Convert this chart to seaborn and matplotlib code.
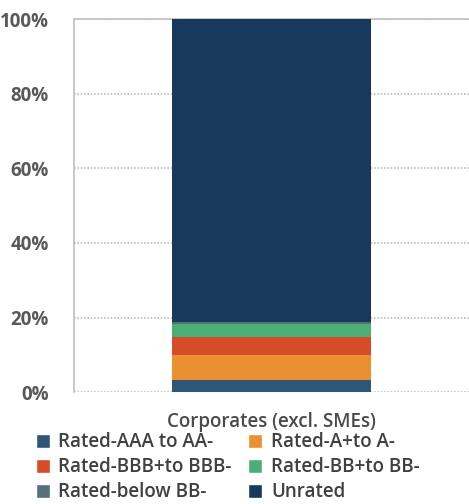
import matplotlib
matplotlib.use("Agg")
import matplotlib.pyplot as plt
import seaborn as sns
import pandas as pd
import numpy as np
from matplotlib.patches import Patch

categories = ["Corporates (excl. SMEs)"]
series_names = ["Rated-AAA to AA-", "Rated-A+to A-", "Rated-BBB+to BBB-",
                "Rated-BB+to BB-", "Rated-below BB-", "Unrated"]
values = {
    "Rated-AAA to AA-": [3.3],
    "Rated-A+to A-": [6.7],
    "Rated-BBB+to BBB-": [4.7],
    "Rated-BB+to BB-": [3.6],
    "Rated-below BB-": [0.6],
    "Unrated": [81.1],
}
colors = ["#2E5677", "#EA9030", "#D44D28", "#4BAE74", "#56707B", "#173A5C"]
ytick_labels = ["0%", "20%", "40%", "60%", "80%", "100%"]

sns.set_theme(style="white")
plt.rcParams['font.family'] = ['Open Sans', 'DejaVu Sans']

fig = plt.figure(figsize=(4.69, 5.04), dpi=100)
ax = fig.add_axes([0.158, 0.222, 0.842, 0.740])

cum = np.cumsum([values[s][0] for s in series_names])
for i in range(len(series_names) - 1, -1, -1):
    df = pd.DataFrame({"cat": categories, "val": [cum[i]]})
    sns.barplot(data=df, x="cat", y="val", color=colors[i], width=0.504,
                saturation=1, ax=ax, zorder=3, linewidth=0, edgecolor="none")

ax.set_ylim(0, 100)
ax.set_xlim(-0.5, 0.5)
ax.set_yticks([0, 20, 40, 60, 80, 100])
ax.set_yticklabels(ytick_labels, fontsize=13.5, fontweight="bold", color="#595959")
ax.tick_params(axis="x", labelsize=13.5, colors="#4A4A4A", length=0, pad=14)
for t in ax.get_xticklabels():
    t.set_fontweight("semibold")
ax.tick_params(axis="y", length=0, pad=18)
ax.set_xlabel("")
ax.set_ylabel("")
ax.yaxis.grid(True, linestyle=(0, (1, 1)), color="#BFBFBF", linewidth=1.2, zorder=0)
for s in ["right", "bottom"]:
    ax.spines[s].set_visible(False)
for s in ["left", "top"]:
    ax.spines[s].set_linestyle((0, (1, 1)))
    ax.spines[s].set_color("#BFBFBF")
    ax.spines[s].set_linewidth(1.2)
    ax.spines[s].set_zorder(0)

handles = [Patch(facecolor=c, label=n) for c, n in zip(colors, series_names)]
order = [0, 2, 4, 1, 3, 5]
leg = fig.legend([handles[i] for i in order], [series_names[i] for i in order],
                 ncol=2, loc="lower left", bbox_to_anchor=(0.04, -0.03),
                 frameon=False, fontsize=13.5, handlelength=0.75, handleheight=0.75,
                 handletextpad=0.45, columnspacing=0.9, labelspacing=0.26)
for t in leg.get_texts():
    t.set_color("#404040")
    t.set_fontweight("semibold")

fig.savefig("out.png", dpi=100)
